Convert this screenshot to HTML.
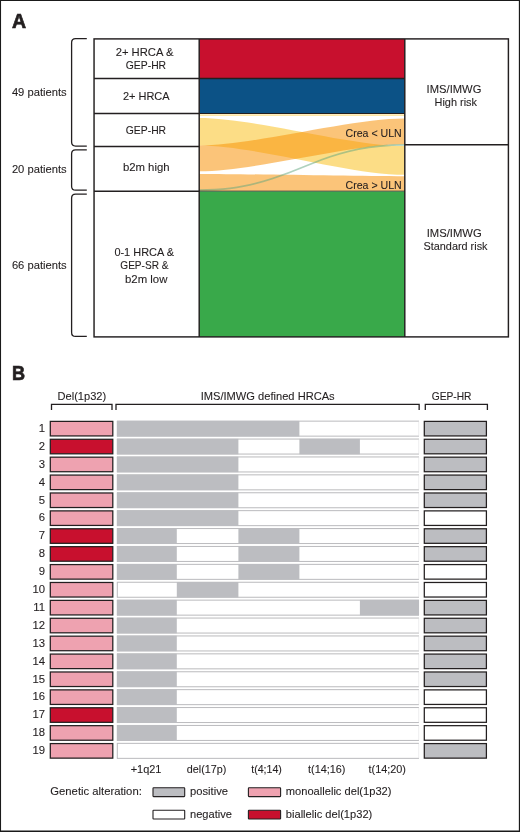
<!DOCTYPE html>
<html lang="en"><head><meta charset="utf-8"><title>Figure</title>
<style>html,body{margin:0;padding:0;background:#fff}body{width:520px;height:832px;overflow:hidden}svg{display:block}text{font-family:"Liberation Sans",sans-serif;fill:#231f20;stroke:#231f20;stroke-width:0.1px}.b{font-weight:bold;stroke-width:0.7px}</style></head><body>
<svg width="520" height="832" viewBox="0 0 520 832">
<rect x="0" y="0" width="520" height="832" fill="#fff"/>
<path d="M0,0H520V832H0Z M1.05,0.95V830.6H518.85V0.95Z" fill="#1a1a1a" fill-rule="evenodd"/>
<text x="12.1" y="27.85" font-size="19.5" class="b">A</text>
<rect x="199.2" y="38.9" width="205.60000000000002" height="39.6" fill="#c8102e"/>
<rect x="199.2" y="78.5" width="205.60000000000002" height="35.05" fill="#0c5286"/>
<rect x="199.2" y="191.3" width="205.60000000000002" height="145.59999999999997" fill="#39a94a"/>
<path d="M199.2,114.2 C254.71,114.2 349.29,114.2 404.8,114.2 L404.8,116.0 C349.29,116.0 254.71,116.0 199.2,116.0 Z" fill="#fac123" fill-opacity="0.4"/>
<path d="M199.2,117.9 C254.71,117.9 349.29,146.0 404.8,146.0 L404.8,174.8 C349.29,174.8 254.71,145.4 199.2,145.4 Z" fill="#fac123" fill-opacity="0.55"/>
<path d="M199.2,145.4 C254.71,145.4 349.29,118.5 404.8,118.5 L404.8,144.2 C349.29,144.2 254.71,171.3 199.2,171.3 Z" fill="#f8940b" fill-opacity="0.55"/>
<path d="M199.2,173.9 C254.71,173.9 349.29,176.3 404.8,176.3 L404.8,191.0 C349.29,191.0 254.71,191.0 199.2,191.0 Z" fill="#f8940b" fill-opacity="0.55"/>
<path d="M199.2,189.2 C291.72,189.2 312.28,144.0 404.8,144.0 L404.8,145.7 C312.28,145.7 291.72,190.9 199.2,190.9 Z" fill="#5fa67e" fill-opacity="0.5"/>
<line x1="199.2" y1="78.5" x2="404.8" y2="78.5" stroke="#231f20" stroke-width="1.35"/>
<line x1="199.2" y1="113.55" x2="404.8" y2="113.55" stroke="#231f20" stroke-width="1.1"/>
<line x1="199.2" y1="191.10000000000002" x2="404.8" y2="191.10000000000002" stroke="#231f20" stroke-width="0.7"/>
<g fill="none" stroke="#231f20" stroke-width="1.45">
<rect x="94.05" y="38.9" width="414.34999999999997" height="298.0"/>
<line x1="199.2" y1="38.9" x2="199.2" y2="336.9"/>
<line x1="404.8" y1="38.9" x2="404.8" y2="336.9"/>
<line x1="94.05" y1="78.5" x2="199.2" y2="78.5"/>
<line x1="94.05" y1="113.55" x2="199.2" y2="113.55"/>
<line x1="94.05" y1="146.5" x2="199.2" y2="146.5"/>
<line x1="94.05" y1="191.3" x2="199.2" y2="191.3"/>
<line x1="404.8" y1="144.8" x2="508.4" y2="144.8"/>
<path stroke-width="1.3" d="M86.8,38.6 H75.6 Q71.6,38.6 71.6,42.6 V142.1 Q71.6,146.1 75.6,146.1 H86.8"/>
<path stroke-width="1.3" d="M86.8,149.8 H75.6 Q71.6,149.8 71.6,153.8 V186.2 Q71.6,190.2 75.6,190.2 H86.8"/>
<path stroke-width="1.3" d="M86.8,194.2 H75.6 Q71.6,194.2 71.6,198.2 V332.4 Q71.6,336.4 75.6,336.4 H86.8"/>
</g>
<text x="11.9" y="95.55" font-size="11.3" textLength="54.8" lengthAdjust="spacingAndGlyphs">49 patients</text>
<text x="11.9" y="173.35" font-size="11.3" textLength="54.8" lengthAdjust="spacingAndGlyphs">20 patients</text>
<text x="11.9" y="268.55" font-size="11.3" textLength="54.8" lengthAdjust="spacingAndGlyphs">66 patients</text>
<text x="115.7" y="55.75" font-size="11.3" textLength="57.7" lengthAdjust="spacingAndGlyphs">2+ HRCA &amp;</text>
<text x="125.8" y="69.25" font-size="11.3" textLength="40.3" lengthAdjust="spacingAndGlyphs">GEP-HR</text>
<text x="122.9" y="99.55" font-size="11.3" textLength="46.7" lengthAdjust="spacingAndGlyphs">2+ HRCA</text>
<text x="125.8" y="134.25" font-size="11.3" textLength="40.3" lengthAdjust="spacingAndGlyphs">GEP-HR</text>
<text x="122.9" y="171.35" font-size="11.3" textLength="46.7" lengthAdjust="spacingAndGlyphs">b2m high</text>
<text x="114.4" y="255.55" font-size="11.3" textLength="59.6" lengthAdjust="spacingAndGlyphs">0-1 HRCA &amp;</text>
<text x="120.3" y="269.45" font-size="11.3" textLength="48.2" lengthAdjust="spacingAndGlyphs">GEP-SR &amp;</text>
<text x="125.0" y="282.75" font-size="11.3" textLength="42.4" lengthAdjust="spacingAndGlyphs">b2m low</text>
<text x="345.5" y="136.75" font-size="11.3" textLength="56.2" lengthAdjust="spacingAndGlyphs">Crea &lt; ULN</text>
<text x="345.5" y="188.95" font-size="11.3" textLength="56.2" lengthAdjust="spacingAndGlyphs">Crea &gt; ULN</text>
<text x="426.6" y="92.85" font-size="11.3" textLength="54.8" lengthAdjust="spacingAndGlyphs">IMS/IMWG</text>
<text x="434.5" y="106.15" font-size="11.3" textLength="42.5" lengthAdjust="spacingAndGlyphs">High risk</text>
<text x="426.7" y="236.75" font-size="11.3" textLength="55.0" lengthAdjust="spacingAndGlyphs">IMS/IMWG</text>
<text x="423.5" y="249.55" font-size="11.3" textLength="64.0" lengthAdjust="spacingAndGlyphs">Standard risk</text>
<text x="11.9" y="379.55" font-size="19.5" textLength="13.1" lengthAdjust="spacingAndGlyphs" class="b">B</text>
<text x="57.5" y="400.35" font-size="11.3" textLength="48.7" lengthAdjust="spacingAndGlyphs">Del(1p32)</text>
<text x="200.7" y="400.35" font-size="11.3" textLength="134.0" lengthAdjust="spacingAndGlyphs">IMS/IMWG defined HRCAs</text>
<text x="431.7" y="400.35" font-size="11.3" textLength="39.8" lengthAdjust="spacingAndGlyphs">GEP-HR</text>
<g fill="none" stroke="#231f20" stroke-width="1.3">
<path d="M51.5,410.1 V404.4 H112.0 V410.1"/>
<path d="M116.0,410.1 V404.4 H419.15 V410.1"/>
<path d="M425.3,410.1 V404.4 H487.4 V410.1"/>
</g>
<text x="45.0" y="431.95" font-size="11.3" text-anchor="end">1</text>
<rect x="50.3" y="421.38" width="62.5" height="14.55" fill="#eea2b0" stroke="#231f20" stroke-width="1.25"/>
<path d="M116.9,421.15 H419.0 M116.9,436.15 H419.0" fill="none" stroke="#b2b2b5" stroke-width="0.9"/>
<path d="M117.30000000000001,421.15 V436.15" fill="none" stroke="#b2b2b5" stroke-width="0.9"/>
<path d="M418.7,421.15 V436.15" fill="none" stroke="#dcdcde" stroke-width="0.5"/>
<rect x="117.0" y="420.9" width="182.4" height="15.5" fill="#bcbdc1"/>
<rect x="424.3" y="421.38" width="62.1" height="14.55" fill="#bcbdc1" stroke="#231f20" stroke-width="1.25"/>
<text x="45.0" y="449.85" font-size="11.3" text-anchor="end">2</text>
<rect x="50.3" y="439.27" width="62.5" height="14.55" fill="#c8102e" stroke="#231f20" stroke-width="1.25"/>
<path d="M116.9,439.05 H419.0 M116.9,454.05 H419.0" fill="none" stroke="#b2b2b5" stroke-width="0.9"/>
<path d="M117.30000000000001,439.05 V454.05" fill="none" stroke="#b2b2b5" stroke-width="0.9"/>
<path d="M418.7,439.05 V454.05" fill="none" stroke="#dcdcde" stroke-width="0.5"/>
<rect x="117.0" y="438.8" width="121.4" height="15.5" fill="#bcbdc1"/>
<rect x="299.4" y="438.8" width="60.5" height="15.5" fill="#bcbdc1"/>
<rect x="424.3" y="439.27" width="62.1" height="14.55" fill="#bcbdc1" stroke="#231f20" stroke-width="1.25"/>
<text x="45.0" y="467.75" font-size="11.3" text-anchor="end">3</text>
<rect x="50.3" y="457.18" width="62.5" height="14.55" fill="#eea2b0" stroke="#231f20" stroke-width="1.25"/>
<path d="M116.9,456.95 H419.0 M116.9,471.95 H419.0" fill="none" stroke="#b2b2b5" stroke-width="0.9"/>
<path d="M117.30000000000001,456.95 V471.95" fill="none" stroke="#b2b2b5" stroke-width="0.9"/>
<path d="M418.7,456.95 V471.95" fill="none" stroke="#dcdcde" stroke-width="0.5"/>
<rect x="117.0" y="456.7" width="121.4" height="15.5" fill="#bcbdc1"/>
<rect x="424.3" y="457.18" width="62.1" height="14.55" fill="#bcbdc1" stroke="#231f20" stroke-width="1.25"/>
<text x="45.0" y="485.65" font-size="11.3" text-anchor="end">4</text>
<rect x="50.3" y="475.07" width="62.5" height="14.55" fill="#eea2b0" stroke="#231f20" stroke-width="1.25"/>
<path d="M116.9,474.85 H419.0 M116.9,489.85 H419.0" fill="none" stroke="#b2b2b5" stroke-width="0.9"/>
<path d="M117.30000000000001,474.85 V489.85" fill="none" stroke="#b2b2b5" stroke-width="0.9"/>
<path d="M418.7,474.85 V489.85" fill="none" stroke="#dcdcde" stroke-width="0.5"/>
<rect x="117.0" y="474.6" width="121.4" height="15.5" fill="#bcbdc1"/>
<rect x="424.3" y="475.07" width="62.1" height="14.55" fill="#bcbdc1" stroke="#231f20" stroke-width="1.25"/>
<text x="45.0" y="503.55" font-size="11.3" text-anchor="end">5</text>
<rect x="50.3" y="492.98" width="62.5" height="14.55" fill="#eea2b0" stroke="#231f20" stroke-width="1.25"/>
<path d="M116.9,492.75 H419.0 M116.9,507.75 H419.0" fill="none" stroke="#b2b2b5" stroke-width="0.9"/>
<path d="M117.30000000000001,492.75 V507.75" fill="none" stroke="#b2b2b5" stroke-width="0.9"/>
<path d="M418.7,492.75 V507.75" fill="none" stroke="#dcdcde" stroke-width="0.5"/>
<rect x="117.0" y="492.5" width="121.4" height="15.5" fill="#bcbdc1"/>
<rect x="424.3" y="492.98" width="62.1" height="14.55" fill="#bcbdc1" stroke="#231f20" stroke-width="1.25"/>
<text x="45.0" y="521.45" font-size="11.3" text-anchor="end">6</text>
<rect x="50.3" y="510.88" width="62.5" height="14.55" fill="#eea2b0" stroke="#231f20" stroke-width="1.25"/>
<path d="M116.9,510.65 H419.0 M116.9,525.65 H419.0" fill="none" stroke="#b2b2b5" stroke-width="0.9"/>
<path d="M117.30000000000001,510.65 V525.65" fill="none" stroke="#b2b2b5" stroke-width="0.9"/>
<path d="M418.7,510.65 V525.65" fill="none" stroke="#dcdcde" stroke-width="0.5"/>
<rect x="117.0" y="510.4" width="121.4" height="15.5" fill="#bcbdc1"/>
<rect x="424.3" y="510.88" width="62.1" height="14.55" fill="#fff" stroke="#231f20" stroke-width="1.25"/>
<text x="45.0" y="539.35" font-size="11.3" text-anchor="end">7</text>
<rect x="50.3" y="528.77" width="62.5" height="14.55" fill="#c8102e" stroke="#231f20" stroke-width="1.25"/>
<path d="M116.9,528.55 H419.0 M116.9,543.55 H419.0" fill="none" stroke="#b2b2b5" stroke-width="0.9"/>
<path d="M117.30000000000001,528.55 V543.55" fill="none" stroke="#b2b2b5" stroke-width="0.9"/>
<path d="M418.7,528.55 V543.55" fill="none" stroke="#dcdcde" stroke-width="0.5"/>
<rect x="117.0" y="528.3" width="59.8" height="15.5" fill="#bcbdc1"/>
<rect x="238.4" y="528.3" width="61.0" height="15.5" fill="#bcbdc1"/>
<rect x="424.3" y="528.77" width="62.1" height="14.55" fill="#bcbdc1" stroke="#231f20" stroke-width="1.25"/>
<text x="45.0" y="557.25" font-size="11.3" text-anchor="end">8</text>
<rect x="50.3" y="546.67" width="62.5" height="14.55" fill="#c8102e" stroke="#231f20" stroke-width="1.25"/>
<path d="M116.9,546.45 H419.0 M116.9,561.45 H419.0" fill="none" stroke="#b2b2b5" stroke-width="0.9"/>
<path d="M117.30000000000001,546.45 V561.45" fill="none" stroke="#b2b2b5" stroke-width="0.9"/>
<path d="M418.7,546.45 V561.45" fill="none" stroke="#dcdcde" stroke-width="0.5"/>
<rect x="117.0" y="546.2" width="59.8" height="15.5" fill="#bcbdc1"/>
<rect x="238.4" y="546.2" width="61.0" height="15.5" fill="#bcbdc1"/>
<rect x="424.3" y="546.67" width="62.1" height="14.55" fill="#bcbdc1" stroke="#231f20" stroke-width="1.25"/>
<text x="45.0" y="575.15" font-size="11.3" text-anchor="end">9</text>
<rect x="50.3" y="564.58" width="62.5" height="14.55" fill="#eea2b0" stroke="#231f20" stroke-width="1.25"/>
<path d="M116.9,564.35 H419.0 M116.9,579.35 H419.0" fill="none" stroke="#b2b2b5" stroke-width="0.9"/>
<path d="M117.30000000000001,564.35 V579.35" fill="none" stroke="#b2b2b5" stroke-width="0.9"/>
<path d="M418.7,564.35 V579.35" fill="none" stroke="#dcdcde" stroke-width="0.5"/>
<rect x="117.0" y="564.1" width="59.8" height="15.5" fill="#bcbdc1"/>
<rect x="238.4" y="564.1" width="61.0" height="15.5" fill="#bcbdc1"/>
<rect x="424.3" y="564.58" width="62.1" height="14.55" fill="#fff" stroke="#231f20" stroke-width="1.25"/>
<text x="45.0" y="593.05" font-size="11.3" text-anchor="end">10</text>
<rect x="50.3" y="582.48" width="62.5" height="14.55" fill="#eea2b0" stroke="#231f20" stroke-width="1.25"/>
<path d="M116.9,582.25 H419.0 M116.9,597.25 H419.0" fill="none" stroke="#b2b2b5" stroke-width="0.9"/>
<path d="M117.30000000000001,582.25 V597.25" fill="none" stroke="#b2b2b5" stroke-width="0.9"/>
<path d="M418.7,582.25 V597.25" fill="none" stroke="#dcdcde" stroke-width="0.5"/>
<rect x="176.8" y="582.0" width="61.6" height="15.5" fill="#bcbdc1"/>
<rect x="424.3" y="582.48" width="62.1" height="14.55" fill="#fff" stroke="#231f20" stroke-width="1.25"/>
<text x="45.0" y="610.95" font-size="11.3" text-anchor="end">11</text>
<rect x="50.3" y="600.38" width="62.5" height="14.55" fill="#eea2b0" stroke="#231f20" stroke-width="1.25"/>
<path d="M116.9,600.15 H419.0 M116.9,615.15 H419.0" fill="none" stroke="#b2b2b5" stroke-width="0.9"/>
<path d="M117.30000000000001,600.15 V615.15" fill="none" stroke="#b2b2b5" stroke-width="0.9"/>
<path d="M418.7,600.15 V615.15" fill="none" stroke="#dcdcde" stroke-width="0.5"/>
<rect x="117.0" y="599.9" width="59.8" height="15.5" fill="#bcbdc1"/>
<rect x="359.9" y="599.9" width="59.1" height="15.5" fill="#bcbdc1"/>
<rect x="424.3" y="600.38" width="62.1" height="14.55" fill="#bcbdc1" stroke="#231f20" stroke-width="1.25"/>
<text x="45.0" y="628.85" font-size="11.3" text-anchor="end">12</text>
<rect x="50.3" y="618.27" width="62.5" height="14.55" fill="#eea2b0" stroke="#231f20" stroke-width="1.25"/>
<path d="M116.9,618.05 H419.0 M116.9,633.05 H419.0" fill="none" stroke="#b2b2b5" stroke-width="0.9"/>
<path d="M117.30000000000001,618.05 V633.05" fill="none" stroke="#b2b2b5" stroke-width="0.9"/>
<path d="M418.7,618.05 V633.05" fill="none" stroke="#dcdcde" stroke-width="0.5"/>
<rect x="117.0" y="617.8" width="59.8" height="15.5" fill="#bcbdc1"/>
<rect x="424.3" y="618.27" width="62.1" height="14.55" fill="#bcbdc1" stroke="#231f20" stroke-width="1.25"/>
<text x="45.0" y="646.75" font-size="11.3" text-anchor="end">13</text>
<rect x="50.3" y="636.17" width="62.5" height="14.55" fill="#eea2b0" stroke="#231f20" stroke-width="1.25"/>
<path d="M116.9,635.95 H419.0 M116.9,650.95 H419.0" fill="none" stroke="#b2b2b5" stroke-width="0.9"/>
<path d="M117.30000000000001,635.95 V650.95" fill="none" stroke="#b2b2b5" stroke-width="0.9"/>
<path d="M418.7,635.95 V650.95" fill="none" stroke="#dcdcde" stroke-width="0.5"/>
<rect x="117.0" y="635.7" width="59.8" height="15.5" fill="#bcbdc1"/>
<rect x="424.3" y="636.17" width="62.1" height="14.55" fill="#bcbdc1" stroke="#231f20" stroke-width="1.25"/>
<text x="45.0" y="664.65" font-size="11.3" text-anchor="end">14</text>
<rect x="50.3" y="654.08" width="62.5" height="14.55" fill="#eea2b0" stroke="#231f20" stroke-width="1.25"/>
<path d="M116.9,653.85 H419.0 M116.9,668.85 H419.0" fill="none" stroke="#b2b2b5" stroke-width="0.9"/>
<path d="M117.30000000000001,653.85 V668.85" fill="none" stroke="#b2b2b5" stroke-width="0.9"/>
<path d="M418.7,653.85 V668.85" fill="none" stroke="#dcdcde" stroke-width="0.5"/>
<rect x="117.0" y="653.6" width="59.8" height="15.5" fill="#bcbdc1"/>
<rect x="424.3" y="654.08" width="62.1" height="14.55" fill="#bcbdc1" stroke="#231f20" stroke-width="1.25"/>
<text x="45.0" y="682.55" font-size="11.3" text-anchor="end">15</text>
<rect x="50.3" y="671.98" width="62.5" height="14.55" fill="#eea2b0" stroke="#231f20" stroke-width="1.25"/>
<path d="M116.9,671.75 H419.0 M116.9,686.75 H419.0" fill="none" stroke="#b2b2b5" stroke-width="0.9"/>
<path d="M117.30000000000001,671.75 V686.75" fill="none" stroke="#b2b2b5" stroke-width="0.9"/>
<path d="M418.7,671.75 V686.75" fill="none" stroke="#dcdcde" stroke-width="0.5"/>
<rect x="117.0" y="671.5" width="59.8" height="15.5" fill="#bcbdc1"/>
<rect x="424.3" y="671.98" width="62.1" height="14.55" fill="#bcbdc1" stroke="#231f20" stroke-width="1.25"/>
<text x="45.0" y="700.45" font-size="11.3" text-anchor="end">16</text>
<rect x="50.3" y="689.88" width="62.5" height="14.55" fill="#eea2b0" stroke="#231f20" stroke-width="1.25"/>
<path d="M116.9,689.65 H419.0 M116.9,704.65 H419.0" fill="none" stroke="#b2b2b5" stroke-width="0.9"/>
<path d="M117.30000000000001,689.65 V704.65" fill="none" stroke="#b2b2b5" stroke-width="0.9"/>
<path d="M418.7,689.65 V704.65" fill="none" stroke="#dcdcde" stroke-width="0.5"/>
<rect x="117.0" y="689.4" width="59.8" height="15.5" fill="#bcbdc1"/>
<rect x="424.3" y="689.88" width="62.1" height="14.55" fill="#fff" stroke="#231f20" stroke-width="1.25"/>
<text x="45.0" y="718.35" font-size="11.3" text-anchor="end">17</text>
<rect x="50.3" y="707.77" width="62.5" height="14.55" fill="#c8102e" stroke="#231f20" stroke-width="1.25"/>
<path d="M116.9,707.55 H419.0 M116.9,722.55 H419.0" fill="none" stroke="#b2b2b5" stroke-width="0.9"/>
<path d="M117.30000000000001,707.55 V722.55" fill="none" stroke="#b2b2b5" stroke-width="0.9"/>
<path d="M418.7,707.55 V722.55" fill="none" stroke="#dcdcde" stroke-width="0.5"/>
<rect x="117.0" y="707.3" width="59.8" height="15.5" fill="#bcbdc1"/>
<rect x="424.3" y="707.77" width="62.1" height="14.55" fill="#fff" stroke="#231f20" stroke-width="1.25"/>
<text x="45.0" y="736.25" font-size="11.3" text-anchor="end">18</text>
<rect x="50.3" y="725.67" width="62.5" height="14.55" fill="#eea2b0" stroke="#231f20" stroke-width="1.25"/>
<path d="M116.9,725.45 H419.0 M116.9,740.45 H419.0" fill="none" stroke="#b2b2b5" stroke-width="0.9"/>
<path d="M117.30000000000001,725.45 V740.45" fill="none" stroke="#b2b2b5" stroke-width="0.9"/>
<path d="M418.7,725.45 V740.45" fill="none" stroke="#dcdcde" stroke-width="0.5"/>
<rect x="117.0" y="725.2" width="59.8" height="15.5" fill="#bcbdc1"/>
<rect x="424.3" y="725.67" width="62.1" height="14.55" fill="#fff" stroke="#231f20" stroke-width="1.25"/>
<text x="45.0" y="754.15" font-size="11.3" text-anchor="end">19</text>
<rect x="50.3" y="743.58" width="62.5" height="14.55" fill="#eea2b0" stroke="#231f20" stroke-width="1.25"/>
<path d="M116.9,743.35 H419.0 M116.9,758.35 H419.0" fill="none" stroke="#b2b2b5" stroke-width="0.9"/>
<path d="M117.30000000000001,743.35 V758.35" fill="none" stroke="#b2b2b5" stroke-width="0.9"/>
<path d="M418.7,743.35 V758.35" fill="none" stroke="#dcdcde" stroke-width="0.5"/>
<rect x="424.3" y="743.58" width="62.1" height="14.55" fill="#bcbdc1" stroke="#231f20" stroke-width="1.25"/>
<text x="130.7" y="772.95" font-size="11.3" textLength="30.7" lengthAdjust="spacingAndGlyphs">+1q21</text>
<text x="186.8" y="772.95" font-size="11.3" textLength="39.5" lengthAdjust="spacingAndGlyphs">del(17p)</text>
<text x="251.2" y="772.95" font-size="11.3" textLength="30.7" lengthAdjust="spacingAndGlyphs">t(4;14)</text>
<text x="308.0" y="772.95" font-size="11.3" textLength="37.4" lengthAdjust="spacingAndGlyphs">t(14;16)</text>
<text x="368.5" y="772.95" font-size="11.3" textLength="37.4" lengthAdjust="spacingAndGlyphs">t(14;20)</text>
<text x="50.3" y="795.35" font-size="11.3" textLength="91.5" lengthAdjust="spacingAndGlyphs">Genetic alteration:</text>
<rect x="153" y="787.8" width="31.7" height="8.8" fill="#bcbdc1" stroke="#231f20" stroke-width="1.1" rx="0.6"/>
<rect x="153" y="810.2" width="31.7" height="8.8" fill="#fff" stroke="#231f20" stroke-width="1.1" rx="0.6"/>
<rect x="248.4" y="787.8" width="32.2" height="8.8" fill="#eea2b0" stroke="#231f20" stroke-width="1.1" rx="0.6"/>
<rect x="248.4" y="810.2" width="32.2" height="8.8" fill="#c8102e" stroke="#231f20" stroke-width="1.1" rx="0.6"/>
<text x="190.0" y="795.35" font-size="11.3" textLength="38.0" lengthAdjust="spacingAndGlyphs">positive</text>
<text x="190.0" y="817.55" font-size="11.3" textLength="42.0" lengthAdjust="spacingAndGlyphs">negative</text>
<text x="285.8" y="795.35" font-size="11.3" textLength="105.7" lengthAdjust="spacingAndGlyphs">monoallelic del(1p32)</text>
<text x="285.8" y="817.55" font-size="11.3" textLength="86.5" lengthAdjust="spacingAndGlyphs">biallelic del(1p32)</text>
</svg>
</body></html>
